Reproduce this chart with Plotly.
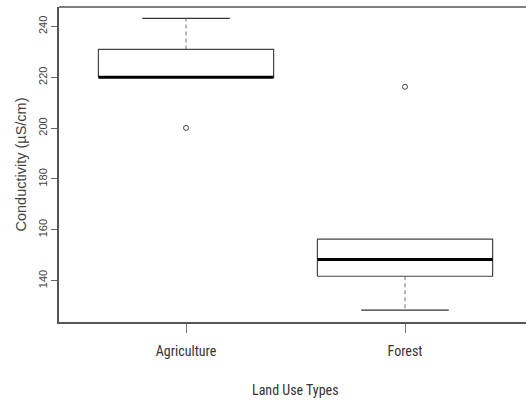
import plotly.graph_objects as go

categories = ["Agriculture", "Forest"]
lower_whisker = [220.0, 128.4]
q1 = [220.0, 141.7]
median = [220.0, 148.3]
q3 = [231.0, 156.3]
upper_whisker = [243.2, 156.3]
outlier_cat = ["Agriculture", "Forest"]
outlier_val = [200.1, 216.3]
y_ticks = [140, 160, 180, 200, 220, 240]

BOX_HALF = 0.4
CAP_HALF = 0.2
W, H = 526, 400
ML, MR, MT, MB = 59, 0, 7, 78
PX_PER_UNIT = 219.0
x0 = 0.42
x1 = x0 + (W - ML - MR) / PX_PER_UNIT

fig = go.Figure()
for i, c in enumerate(categories):
    xc = i + 1
    # whiskers (dashed)
    fig.add_trace(go.Scatter(x=[xc, xc], y=[q3[i], upper_whisker[i]], mode="lines",
                             line=dict(color="#888888", width=1.2, dash="4px,3px"),
                             hoverinfo="skip", showlegend=False))
    fig.add_trace(go.Scatter(x=[xc, xc], y=[q1[i], lower_whisker[i]], mode="lines",
                             line=dict(color="#888888", width=1.2, dash="4px,3px"),
                             hoverinfo="skip", showlegend=False))
    # caps
    for v in (upper_whisker[i], lower_whisker[i]):
        if v not in (q1[i], q3[i]):
            fig.add_trace(go.Scatter(x=[xc - CAP_HALF, xc + CAP_HALF], y=[v, v], mode="lines",
                                     line=dict(color="#333333", width=1.2),
                                     hoverinfo="skip", showlegend=False))
    # box
    fig.add_trace(go.Scatter(x=[xc - BOX_HALF, xc + BOX_HALF, xc + BOX_HALF, xc - BOX_HALF, xc - BOX_HALF],
                             y=[q1[i], q1[i], q3[i], q3[i], q1[i]], mode="lines",
                             line=dict(color="#444444", width=1.2),
                             hoverinfo="skip", showlegend=False))
    # median
    fig.add_trace(go.Scatter(x=[xc - BOX_HALF, xc + BOX_HALF], y=[median[i], median[i]], mode="lines",
                             line=dict(color="#000000", width=3),
                             hoverinfo="skip", showlegend=False))

fig.add_trace(go.Scatter(x=[categories.index(c) + 1 for c in outlier_cat], y=outlier_val,
                         mode="markers",
                         marker=dict(symbol="circle-open", size=5, color="#444444",
                                     line=dict(width=1)),
                         hoverinfo="skip", showlegend=False))

NARROW = "Liberation Sans Narrow, Arial Narrow, Roboto Condensed, Liberation Sans, sans-serif"

fig.update_layout(
    width=W, height=H,
    margin=dict(l=ML, r=MR, t=MT, b=MB, autoexpand=False),
    plot_bgcolor="white", paper_bgcolor="white",
    font=dict(family="Liberation Sans, Arial, sans-serif", color="#333333"),
    xaxis=dict(range=[x0, x1], tickvals=[1, 2], ticktext=categories, automargin=False,
               showgrid=False, zeroline=False, showline=True, linecolor="#555555", linewidth=1.5,
               ticks="outside", ticklen=9, tickcolor="#777777", tickwidth=1.2,
               ticklabelstandoff=6,
               tickfont=dict(family=NARROW, size=14, color="#333333")),
    yaxis=dict(range=[123.7, 247.7], tickvals=y_ticks, tickangle=-90, automargin=False,
               showgrid=False, zeroline=False, showline=True, linecolor="#555555", linewidth=1.5,
               ticks="outside", ticklen=6, tickcolor="#666666", tickwidth=1.2,
               tickfont=dict(size=11, color="#444444"),
               title=dict(text="Conductivity (µS/cm)", font=dict(size=14.5, color="#444444"), standoff=7)),
    shapes=[dict(type="line", xref="paper", yref="paper", x0=0, x1=1, y0=1, y1=1,
                 line=dict(color="#555555", width=1.5))],
    annotations=[dict(text="Land Use Types", xref="x", yref="paper", x=(x0 + 2.58) / 2, y=0,
                      yshift=-68, showarrow=False, yanchor="middle",
                      font=dict(family=NARROW, size=14, color="#333333"))],
)

fig.write_html("out.html", config={"displayModeBar": False},
               post_script="document.body.style.margin='0';document.body.style.padding='0';")
